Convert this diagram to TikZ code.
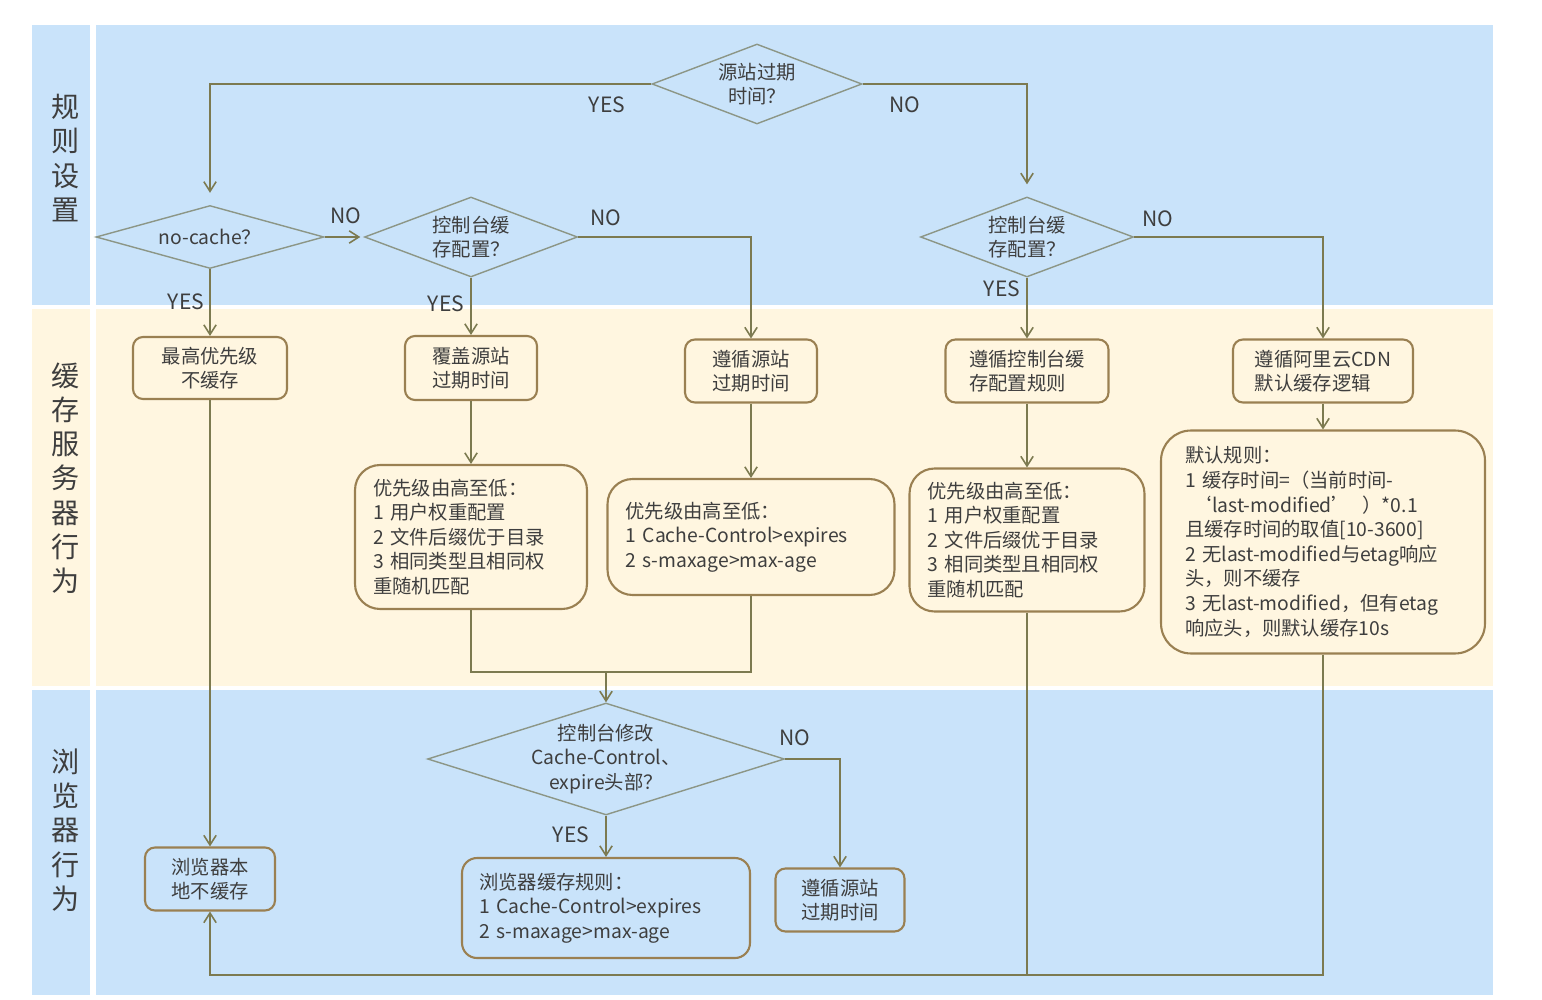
\documentclass[tikz,border=0pt]{standalone}
\usepackage{fontspec}
\setmainfont{Noto Sans CJK SC}
\usetikzlibrary{shapes.geometric, arrows.meta}

\definecolor{laneblue}{HTML}{C9E3FA}
\definecolor{lanecream}{HTML}{FFF6E0}
\definecolor{flowline}{HTML}{7C7A50}
\definecolor{boxline}{HTML}{9A8052}
\definecolor{dialine}{HTML}{8C9686}
\definecolor{txtgrey}{HTML}{3E3E3E}

\begin{document}
\begin{tikzpicture}[x=0.02cm, y=-0.02cm, font=\fontsize{11}{14}\selectfont, text=txtgrey,
    askdia/.style={diamond, draw=dialine, line width=0.8pt, inner sep=-3pt, align=center},
    ansbox/.style={rectangle, rounded corners=0.2cm, draw=boxline, line width=1.2pt, align=left, inner sep=0pt},
    listbox/.style={rectangle, rounded corners=0.5cm, draw=boxline, line width=1.2pt, align=left, inner xsep=0.36cm, inner ysep=0pt},
    link/.style={draw=flowline, line width=0.9pt},
    linkarr/.style={link, -{Straight Barb[length=5.5pt,width=7pt]}},
    yn/.style={font=\fontsize{12}{14}\selectfont},
    lanetxt/.style={font=\fontsize{16}{19.5}\selectfont, align=center}]
  \useasboundingbox (0,0) rectangle (1542,1000);
  % lanes
  \foreach \ya/\yb/\lc in {25/305/laneblue, 309/686/lanecream, 690/995/laneblue} {
    \fill[\lc] (32,\ya) rectangle (90,\yb);
    \fill[\lc] (96,\ya) rectangle (1493,\yb);
  }
  \node[lanetxt] (laneRule) at (66,158) {规\\则\\设\\置};
  \node[lanetxt] (laneCdn) at (66,478) {缓\\存\\服\\务\\器\\行\\为};
  \node[lanetxt] (laneBrowser) at (66,830) {浏\\览\\器\\行\\为};

  % decisions
  \node[askdia, minimum width=4.2cm, minimum height=1.6cm, aspect=2.6] (dSrc) at (757,84) {源站过期\\时间？};
  \node[askdia, minimum width=4.56cm, minimum height=1.26cm, aspect=3.6] (dNoCache) at (210,237) {no-cache？};
  \node[askdia, minimum width=4.26cm, minimum height=1.6cm, aspect=2.66] (dCon) at (471,237) {控制台缓\\存配置？};
  \node[askdia, minimum width=4.26cm, minimum height=1.6cm, aspect=2.66] (dCdn) at (1027,237) {控制台缓\\存配置？};
  \node[askdia, minimum width=7.14cm, minimum height=2.24cm, aspect=3.2] (dBrowser) at (606,759) {控制台修改\\Cache-Control、\\expire头部？};

  % cache server boxes
  \node[ansbox, minimum width=3.08cm, minimum height=1.24cm, align=center] (bNoStore) at (210,368) {最高优先级\\不缓存};
  \node[ansbox, minimum width=2.64cm, minimum height=1.28cm, align=center] (bOverride) at (471,368) {覆盖源站\\过期时间};
  \node[ansbox, minimum width=2.64cm, minimum height=1.26cm] (bFollow) at (751,371) {遵循源站\\过期时间};
  \node[ansbox, minimum width=3.26cm, minimum height=1.26cm] (bConRule) at (1027,371) {遵循控制台缓\\存配置规则};
  \node[ansbox, minimum width=3.6cm, minimum height=1.26cm] (bDefault) at (1323,371) {遵循阿里云CDN\\默认缓存逻辑};

  \node[listbox, text width=3.92cm, minimum height=2.88cm] (rPrio) at (471,537) {优先级由高至低：\\1 用户权重配置\\2 文件后缀优于目录\\3 相同类型且相同权\\重随机匹配};
  \node[listbox, text width=5.02cm, minimum height=2.32cm] (rHead) at (751,537) {优先级由高至低：\\1 Cache-Control>expires\\2 s-maxage>max-age};
  \node[listbox, text width=3.98cm, minimum height=2.86cm] (rConPrio) at (1027,540) {优先级由高至低：\\1 用户权重配置\\2 文件后缀优于目录\\3 相同类型且相同权\\重随机匹配};
  \node[listbox, rounded corners=0.6cm, inner xsep=0.48cm, text width=5.52cm, minimum height=4.46cm] (rDefRule) at (1323,542) {默认规则：\\1 缓存时间=（当前时间-\\\hspace*{0.4em}‘last-modified’\hspace{0.6em}）*0.1\\且缓存时间的取值[10-3600]\\2 无last-modified与etag响应\\头，则不缓存\\3 无last-modified，但有etag\\响应头，则默认缓存10s};

  % browser boxes
  \node[ansbox, minimum width=2.6cm, minimum height=1.26cm, align=center] (bLocal) at (210,879) {浏览器本\\地不缓存};
  \node[listbox, rounded corners=0.3cm, inner xsep=0.34cm, text width=5.08cm, minimum height=2.0cm] (rBrowser) at (606,908) {浏览器缓存规则：\\1 Cache-Control>expires\\2 s-maxage>max-age};
  \node[ansbox, minimum width=2.58cm, minimum height=1.26cm, align=center] (bOrigin) at (840,900) {遵循源站\\过期时间};

  % connectors
  \draw[linkarr, shorten >=0.24cm] (dSrc.west) -| (dNoCache.north);
  \draw[linkarr, shorten >=0.24cm] (dSrc.east) -| (dCdn.north);
  \draw[linkarr, shorten >=2pt] (dNoCache.east) -- (dCon.west);
  \draw[linkarr] (dNoCache.south) -- (bNoStore.north);
  \draw[linkarr] (dCon.south) -- (bOverride.north);
  \draw[linkarr] (dCon.east) -| (bFollow.north);
  \draw[linkarr] (dCdn.south) -- (bConRule.north);
  \draw[linkarr] (dCdn.east) -| (bDefault.north);
  \draw[linkarr] (bOverride.south) -- (rPrio.north);
  \draw[linkarr] (bFollow.south) -- (rHead.north);
  \draw[linkarr] (bConRule.south) -- (rConPrio.north);
  \draw[linkarr] (bDefault.south) -- (rDefRule.north);
  \draw[linkarr] (bNoStore.south) -- (bLocal.north);
  \coordinate (mergeA) at (606,672);
  \draw[link] (rPrio.south) |- (mergeA);
  \draw[link] (rHead.south) |- (mergeA);
  \draw[linkarr] (mergeA) -- (dBrowser.north);
  \draw[linkarr] (dBrowser.south) -- (rBrowser.north);
  \draw[linkarr] (dBrowser.east) -| (bOrigin.north);
  \coordinate (baseL) at (210,975);
  \draw[linkarr] (rDefRule.south) |- (baseL) -- (bLocal.south);
  \draw[link] (rConPrio.south) -- (rConPrio.south |- baseL);

  % yes / no
  \node[yn] (ySrc) at (607,105) {YES};
  \node[yn] (nSrc) at (905,105) {NO};
  \node[yn] (nNoCache) at (346,216) {NO};
  \node[yn] (yNoCache) at (186,302) {YES};
  \node[yn] (nCon) at (606,218) {NO};
  \node[yn] (yCon) at (446,304) {YES};
  \node[yn] (yCdn) at (1002,289) {YES};
  \node[yn] (nCdn) at (1158,219) {NO};
  \node[yn] (nBrowser) at (795,738) {NO};
  \node[yn] (yBrowser) at (571,835) {YES};
\end{tikzpicture}
\end{document}
